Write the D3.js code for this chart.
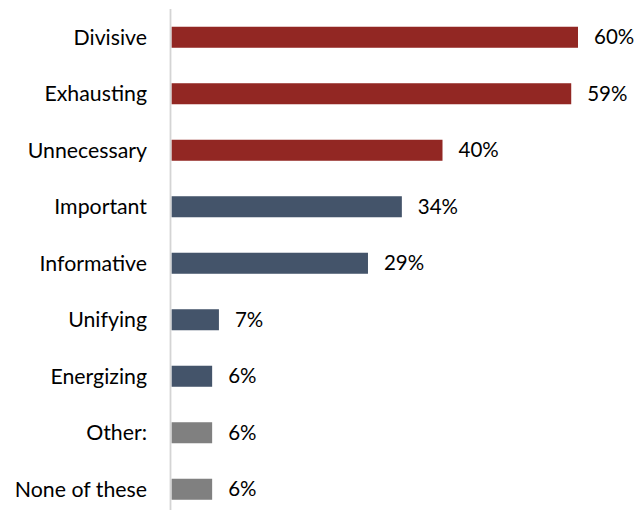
<!DOCTYPE html>
<html>
<head>
<meta charset="utf-8">
<script src="https://cdn.jsdelivr.net/npm/d3@7"></script>
<style>
  html, body { margin: 0; padding: 0; background: #ffffff; }
  svg { display: block; }
  text { font-family: Lato, "Open Sans", sans-serif; fill: #000000; }
</style>
</head>
<body>
<svg id="chart" width="639" height="510"></svg>
<script>
// Survey responses: share of respondents choosing each word
const categories = ["Divisive", "Exhausting", "Unnecessary", "Important", "Informative",
                    "Unifying", "Energizing", "Other:", "None of these"];
const values = [60, 59, 40, 34, 29, 7, 6, 6, 6];
const groups = ["negative", "negative", "negative", "positive", "positive",
                "positive", "positive", "neutral", "neutral"];

const groupColor = { negative: "#922723", positive: "#44546a", neutral: "#808080" };

const svg = d3.select("#chart");
const width = 639, height = 510;
const axisX = 171.5;

const x = d3.scaleLinear().domain([0, 60]).range([axisX, 578]);
const y = d3.scaleBand()
  .domain(categories)
  .range([9, 517.5])
  .paddingInner(0.628)
  .paddingOuter(0.314);

const rows = categories.map((c, i) => ({ cat: c, value: values[i], group: groups[i] }));

// Bars
svg.append("g").selectAll("rect")
  .data(rows)
  .join("rect")
  .attr("x", x(0))
  .attr("y", d => y(d.cat))
  .attr("width", d => x(d.value) - x(0))
  .attr("height", y.bandwidth())
  .attr("fill", d => groupColor[d.group]);

// Category axis line
svg.append("line")
  .attr("x1", axisX - 1).attr("x2", axisX - 1)
  .attr("y1", 9).attr("y2", height)
  .attr("stroke", "#d4d4d4")
  .attr("stroke-width", 1.8);

// Category labels
const fs = 21.3;
svg.append("g").selectAll("text")
  .data(rows)
  .join("text")
  .attr("x", 147)
  .attr("y", d => y(d.cat) + y.bandwidth() / 2)
  .attr("dy", "0.35em")
  .attr("text-anchor", "end")
  .style("font-size", fs + "px")
  .text(d => d.cat);

// Value labels
svg.append("g").selectAll("text")
  .data(rows)
  .join("text")
  .attr("x", d => x(d.value) + 16)
  .attr("y", d => y(d.cat) + y.bandwidth() / 2)
  .attr("dy", "0.35em")
  .style("font-size", "20.5px")
  .text(d => d.value + "%");
</script>
</body>
</html>
